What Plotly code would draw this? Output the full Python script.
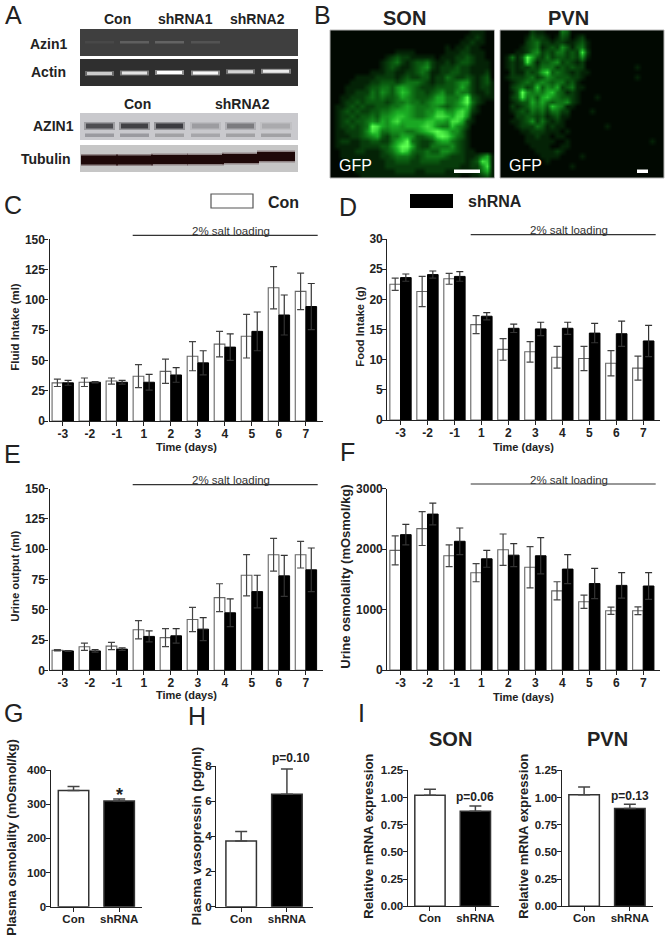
import plotly.graph_objects as go

W = 667
H = 939
FONT = "Liberation Sans"
INK = "#222222"

days = ["-3", "-2", "-1", "1", "2", "3", "4", "5", "6", "7"]
groups = ["Con", "shRNA"]

fluid_con = [31.5, 32, 33, 37, 41, 53.5, 63.5, 70, 110, 107]
fluid_sh = [31.5, 32, 32, 32, 38, 48, 61, 74, 87.5, 94.5]
fluid_con_err = [3, 3.5, 2.5, 9.5, 10, 12, 10.5, 18, 17.5, 15]
fluid_sh_err = [2, 0.5, 1.5, 6.5, 6, 10, 11, 16, 16.5, 19]

food_con = [22.5, 21.3, 23.4, 15.8, 11.7, 11.3, 10.4, 10.2, 9.4, 8.6]
food_sh = [23.6, 24.1, 23.8, 17.2, 15.2, 15.1, 15.2, 14.4, 14.3, 13.1]
food_con_err = [1.0, 2.5, 0.9, 1.5, 1.8, 1.7, 1.8, 2.0, 2.1, 2.0]
food_sh_err = [0.6, 0.6, 0.8, 0.6, 0.7, 1.1, 1.0, 1.6, 2.1, 2.6]

urine_con = [16.5, 19.5, 20, 33.5, 27, 42, 60, 78.5, 95.5, 95.5]
urine_sh = [16, 16, 17.5, 28, 28.5, 34, 47.5, 65, 78, 83]
urine_con_err = [0.5, 3, 3, 7.5, 7.5, 10, 11.5, 17, 13.5, 11]
urine_sh_err = [0.3, 1, 1, 4.5, 6, 9.5, 11.5, 13.5, 17, 18]

osmo_con = [1980, 2340, 1890, 1610, 1990, 1700, 1310, 1130, 980, 980]
osmo_sh = [2240, 2580, 2130, 1840, 1900, 1890, 1670, 1430, 1400, 1390]
osmo_con_err = [240, 280, 180, 150, 260, 340, 150, 110, 60, 65]
osmo_sh_err = [170, 180, 220, 140, 190, 300, 240, 250, 210, 220]

plasma_osmo = [340, 309]
plasma_osmo_err = [12, 6]
plasma_avp = [3.73, 6.4]
plasma_avp_err = [0.55, 1.43]
son_mrna = [1.02, 0.873]
son_mrna_err = [0.055, 0.05]
pvn_mrna = [1.026, 0.898]
pvn_mrna_err = [0.07, 0.04]

# GFP micrographs, brightness 0-9 per cell, read by eye
son_gfp = [
    "000000000000000000000000000011100",
    "000000000000000000000000000112100",
    "000000000000000000000000001121100",
    "000000000000000000000001011211000",
    "000000000000011110000001112211100",
    "000000000001232211111011122321100",
    "000000000012342123342112123321110",
    "000000000012321123452122232211110",
    "000000001112211223431122332211120",
    "000001111222212322331224322321230",
    "000011112233323444321223345521231",
    "000111123344356543222333346421221",
    "000112224354357643323453354421121",
    "001122234343346543334664446932111",
    "001223233332344544345664457942100",
    "011232322333445654445543456731000",
    "012323223344566654455775578621000",
    "012232334355677654456887688510000",
    "012323345465786666677665886210000",
    "012232349865665666787544754200000",
    "011222358744555445678987553100000",
    "011122345632446653345898643100000",
    "012211223322467943223566432100000",
    "011111222233579963224444532100000",
    "001112211123468743343355432110000",
    "001111111122344432344443222112461",
    "000111111112233322333322222123871",
    "000011111112222222222222221122581",
    "000001111111122221122221111112461",
    "000000111111111111111111110011231",
]
pvn_gfp = [
    "000000211000430000000000000000000",
    "000001322101320120000000000000000",
    "000002342212211231000000000000000",
    "000012341232531341000000000000000",
    "000112452324423282000000000000000",
    "014139632423323251000000000000000",
    "012128413345232120000000000000000",
    "012122324442323220000000000100000",
    "002113236834321211000000000000000",
    "012223423543332210000000000100000",
    "001234345434423100000000000000000",
    "002342373546234110000000000000000",
    "001395454674312100000000000000000",
    "002384536754332100010000000000000",
    "001233646434452100000000000000000",
    "002123545375411000000000000000000",
    "001232434244220000100000000000000",
    "000223323123110000000000000000000",
    "001123524212100000000000000000000",
    "000122243121100000000100000000000",
    "000011222111010000000000000000000",
    "000001121101100000000000000000000",
    "000001111110010000000000000000100",
    "000000111100110000000000000000000",
    "000000011112100000000000000000000",
    "000000001111000010000000000000000",
    "000000000100000000000000000000000",
    "000000000000001000000000000000000",
    "000000000000000000000000000000000",
    "000000000000000000000000000000000",
]

# blot lanes: left edge, right edge of each band in page pixels
lanes = [(85, 114), (120, 149), (155, 184), (191, 220), (226, 255), (261, 291)]
azin_gel_band = [0.10, 0.35, 0.40, 0.22, 0.0, 0.0]
actin_band = [0.65, 0.8, 1.0, 0.95, 0.7, 0.85]
actin_mid = [73.5, 73, 72.5, 73, 71.7, 71.3]
azin_wb_upper = [0.7, 0.8, 0.85, 0.22, 0.4, 0.15]
azin_wb_lower = [0.4, 0.4, 0.35, 0.3, 0.35, 0.35]
tubulin_mid = [160, 160, 159.5, 159.5, 158.5, 156.5]

fig = go.Figure()
layout_axes = {}
shapes = []
notes = []


def text(x, y, s, size=12, bold=True, color=INK, angle=0, font=FONT):
    label = f"<b>{s}</b>" if bold else s
    notes.append(dict(x=x, y=y, xref="x", yref="y", text=label, showarrow=False, textangle=angle,
                      xanchor="center", yanchor="middle", font=dict(family=font, size=size, color=color)))


def rect(x0, y0, x1, y1, fill, line=None, width=1, opacity=1):
    shapes.append(dict(type="rect", xref="x", yref="y", x0=x0, y0=y0, x1=x1, y1=y1, fillcolor=fill,
                       opacity=opacity, line=dict(color=line or fill, width=width if line else 0)))


def add_axes(n, left, right, bottom, top, ymax, dtick, xrange, ticks_format=None, tick_size=12):
    layout_axes[f"xaxis{n}"] = dict(domain=[left / W, right / W], anchor=f"y{n}", type="category",
                                    range=xrange, showgrid=False, zeroline=False, showline=True, automargin=False,
                                    linecolor=INK, linewidth=1.3, ticks="outside", ticklen=4, tickwidth=1.2,
                                    tickcolor=INK, ticklabelstandoff=-3,
                                    tickfont=dict(family=FONT, size=tick_size, color=INK, weight=700))
    layout_axes[f"yaxis{n}"] = dict(domain=[1 - bottom / H, 1 - top / H], anchor=f"x{n}", range=[0, ymax],
                                    dtick=dtick, showgrid=False, zeroline=False, showline=True, automargin=False,
                                    linecolor=INK, linewidth=1.3, ticks="outside", ticklen=4, tickwidth=1.2,
                                    tickcolor=INK, tickformat=ticks_format, ticklabelstandoff=-3,
                                    tickfont=dict(family=FONT, size=tick_size, color=INK, weight=700))


def add_time_panel(n, left, right, bottom, top, ymax, dtick, con, sh, con_err, sh_err):
    add_axes(n, left, right, bottom, top, ymax, dtick, [-0.49, 9.62])
    fig.add_bar(x=days, y=con, name="Con", xaxis=f"x{n}", yaxis=f"y{n}", showlegend=False,
                marker=dict(color="white", line=dict(color="#666666", width=1.1)),
                error_y=dict(type="data", array=con_err, color="#444444", thickness=1.2, width=3.5))
    fig.add_bar(x=days, y=sh, name="shRNA", xaxis=f"x{n}", yaxis=f"y{n}", showlegend=False,
                marker=dict(color="black", line=dict(color="black", width=1)),
                error_y=dict(type="data", array=sh_err, color="#333333", thickness=1.2, width=3.5))


def add_pair_panel(n, left, right, bottom, top, ymax, dtick, values, errs, xrange, ticks_format=None):
    add_axes(n, left, right, bottom, top, ymax, dtick, xrange, ticks_format, tick_size=11.5)
    fig.add_bar(x=groups, y=values, xaxis=f"x{n}", yaxis=f"y{n}", showlegend=False, width=0.667,
                marker=dict(color=["white", "black"], line=dict(color="#333333", width=1.5)),
                error_y=dict(type="data", symmetric=False, array=errs, arrayminus=[0, 0],
                             color="#444444", thickness=1.5, width=6))


# page-pixel layer for the micrographs, blots and loose labels
green = [[0, "#010801"], [0.35, "#0a5a10"], [0.7, "#1cb025"], [1, "#5cff50"]]
for grid, x0, x1 in [(son_gfp, 330, 494.5), (pvn_gfp, 500, 664)]:
    cols = len(grid[0])
    rows = len(grid)
    fig.add_heatmap(z=[[int(c) for c in row] for row in grid],
                    x=[x0 + (i + 0.5) * (x1 - x0) / cols for i in range(cols)],
                    y=[30 + (i + 0.5) * 148 / rows for i in range(rows)],
                    zmin=0, zmax=9, colorscale=green, showscale=False, zsmooth="best", xaxis="x", yaxis="y")
layout_axes["xaxis"] = dict(domain=[0, 1], range=[0, W], visible=False, fixedrange=True, automargin=False)
layout_axes["yaxis"] = dict(domain=[0, 1], range=[H, 0], visible=False, fixedrange=True, automargin=False)

rect(330, 30, 494.5, 178, "rgba(0,0,0,0)", "#b5b5b5", 1)
rect(500, 30, 664, 178, "rgba(0,0,0,0)", "#b5b5b5", 1)
rect(454, 169.5, 480, 173, "white")
rect(637, 169.5, 648, 173, "white")

rect(80, 29, 298, 56, "#3f3f3f")
rect(80, 59, 298, 86, "#2f2f2f")
rect(80, 113, 298, 140, "#c9c9cd")
rect(80, 145, 298, 172, "#c6c6c6")
bands = zip(lanes, azin_gel_band, actin_band, actin_mid, azin_wb_upper, azin_wb_lower, tubulin_mid)
for (x0, x1), azin, actin, actin_y, upper, lower, tub_y in bands:
    if azin:
        rect(x0, 41, x1, 43.5, "#9a9a9a", opacity=azin)
    rect(x0, actin_y - 2.5, x1, actin_y + 2.5, "#eeeeee", opacity=actin * 0.5)
    rect(x0 + 2, actin_y - 1.5, x1 - 2, actin_y + 1.5, "#ffffff", opacity=actin)
    rect(x0 - 1, 122, x1 + 1, 130, "#2c2c30", opacity=upper * 0.4)
    rect(x0 + 1, 123.5, x1 - 1, 128.5, "#2c2c30", opacity=upper)
    rect(x0, 133.5, x1, 137, "#55555a", opacity=lower)
    rect(x0 - 4, tub_y - 6, x1 + 4, tub_y + 6, "#2a0a0c", opacity=0.35)
    rect(x0 - 4, tub_y - 4.5, x1 + 4, tub_y + 4.5, "#1e0808")

for s, x, y in [("Con", 117, 19), ("shRNA1", 185, 19), ("shRNA2", 257, 19), ("Con", 137, 104), ("shRNA2", 242, 104),
                ("Azin1", 49, 44), ("Actin", 48, 72), ("AZIN1", 53, 126), ("Tubulin", 45.5, 159)]:
    text(x, y, s, size=14)
text(404, 18, "SON", size=20)
text(568, 18, "PVN", size=20)
text(355, 165, "GFP", size=16, bold=False, color="white")
text(525, 165, "GFP", size=16, bold=False, color="white")

for s, x, y in [("A", 13, 14.5), ("B", 322, 15), ("C", 13, 205), ("D", 348, 206.5), ("E", 12, 454), ("F", 347, 452),
                ("G", 13, 713), ("H", 196.5, 716), ("I", 361.7, 713)]:
    text(x, y, s, size=25, bold=False)

rect(211, 194, 253, 208, "white", "#555555", 1.2)
rect(410, 194, 453, 208, "black")
text(283, 202, "Con", size=16)
text(495, 201, "shRNA", size=16)

# two-condition time courses
add_time_panel(2, 49.5, 322.7, 421, 239.3, 150, 25, fluid_con, fluid_sh, fluid_con_err, fluid_sh_err)
add_time_panel(3, 387.3, 660, 420, 239, 30, 5, food_con, food_sh, food_con_err, food_sh_err)
add_time_panel(4, 49.5, 322.7, 670.3, 488.7, 150, 25, urine_con, urine_sh, urine_con_err, urine_sh_err)
add_time_panel(5, 387.3, 660, 670, 488.7, 3000, 1000, osmo_con, osmo_sh, osmo_con_err, osmo_sh_err)

for x0, x1, y, tx in [(132.7, 317.7, 235.3, 231), (470.7, 655.7, 234.7, 569),
                      (132.7, 317.7, 484.7, 231), (470.7, 655.7, 484, 569)]:
    shapes.append(dict(type="line", xref="x", yref="y", x0=x0, x1=x1, y0=y, y1=y, line=dict(color="#333333", width=1.2)))
    text(tx, y - 4.5, "2% salt loading", size=11.5, bold=False, color="#333333")

for x, y in [(186, 447), (523.7, 447), (186, 695), (523.7, 697)]:
    text(x, y, "Time (days)", size=11)
text(15, 326.7, "Fluid Intake (ml)", size=11.4, angle=-90)
text(360, 326.7, "Food Intake (g)", size=11.2, angle=-90)
text(15, 576.7, "Urine output (ml)", size=11.3, angle=-90)
text(346, 576.7, "Urine osmolality (mOsmol/kg)", size=13, angle=-90)

# single time point comparisons
add_pair_panel(6, 50.7, 142, 906.7, 770, 400, 100, plasma_osmo, plasma_osmo_err, [-0.5, 1.5])
add_pair_panel(7, 216, 313, 906.7, 766, 8, 2, plasma_avp, plasma_avp_err, [-0.55, 1.57])
add_pair_panel(8, 407.7, 499, 906.3, 770.3, 1.25, 0.25, son_mrna, son_mrna_err, [-0.49, 1.52], ".2f")
add_pair_panel(9, 561.7, 652.7, 906.3, 770.3, 1.25, 0.25, pvn_mrna, pvn_mrna_err, [-0.49, 1.5], ".2f")

text(12, 837.7, "Plasma osmolality (mOsmol/kg)", size=13, angle=-90)
text(196.7, 835.7, "Plasma vasopressin (pg/ml)", size=13.5, angle=-90)
text(369, 836.7, "Relative mRNA expression", size=13, angle=-90)
text(524, 836.7, "Relative mRNA expression", size=13, angle=-90)
text(119, 795, "*", size=18)
text(290.7, 758, "p=0.10", size=12)
text(475, 797, "p=0.06", size=12)
text(630, 796, "p=0.13", size=12)
text(450, 739, "SON", size=20)
text(607.7, 739, "PVN", size=20)

fig.update_layout(width=W, height=H, margin=dict(l=0, r=0, t=0, b=0), autosize=False, barmode="group", bargap=0.21,
                  bargroupgap=0, paper_bgcolor="white", plot_bgcolor="rgba(0,0,0,0)", showlegend=False,
                  shapes=shapes, annotations=notes, **layout_axes)

fig.write_html("out.html", config={"displayModeBar": False}, post_script="document.body.style.margin='0';")
